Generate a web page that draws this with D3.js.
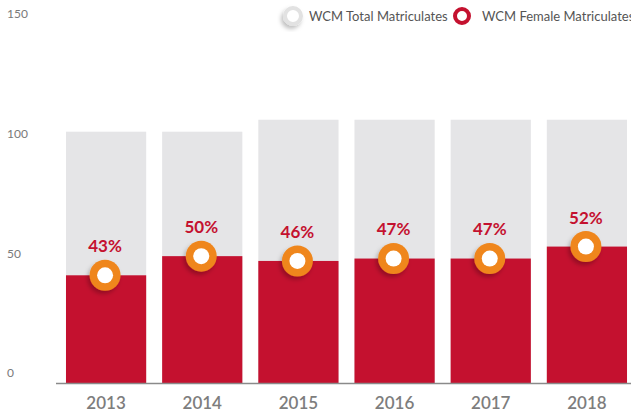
<!DOCTYPE html>
<html>
<head>
<meta charset="utf-8">
<script src="https://cdn.jsdelivr.net/npm/d3@7.9.0/dist/d3.min.js"></script>
<style>
  html, body { margin: 0; padding: 0; background: #fff; }
  svg { display: block; font-family: Lato, 'Open Sans', sans-serif; }
</style>
</head>
<body>
<svg width="631" height="415"></svg>
<script>
// Chart data
const years = ['2013', '2014', '2015', '2016', '2017', '2018'];
const totalMatriculates = [105, 105, 110, 110, 110, 110];
const femaleMatriculates = [45, 53, 51, 52, 52, 57];
const femaleShare = ['43%', '50%', '46%', '47%', '47%', '52%'];
const yTicks = [0, 50, 100, 150];

const svg = d3.select('svg');

// Scales
const x = d3.scaleBand()
  .domain(years)
  .range([58, 635])
  .paddingInner(0.166)
  .paddingOuter(0.083);

const y = d3.scaleLinear()
  .domain([0, 150])
  .range([383, 24]);

// Soft shadow for the markers
const defs = svg.append('defs');
const shadow = defs.append('filter').attr('id', 'shadow')
  .attr('x', '-50%').attr('y', '-50%').attr('width', '200%').attr('height', '200%');
shadow.append('feDropShadow')
  .attr('dx', -2).attr('dy', 3).attr('stdDeviation', 2)
  .attr('flood-color', '#000').attr('flood-opacity', 0.25);

// Y labels (no grid)
svg.append('g')
  .selectAll('text')
  .data(yTicks)
  .join('text')
  .attr('x', 7)
  .attr('y', (d) => y(d) - 10)
  .attr('dy', '0.35em')
  .attr('font-size', 12)
  .attr('fill', '#7a7a7a')
  .text((d) => d);

// Total bars
svg.append('g')
  .selectAll('rect')
  .data(years)
  .join('rect')
  .attr('x', (d) => x(d))
  .attr('width', x.bandwidth())
  .attr('y', (d, i) => y(totalMatriculates[i]))
  .attr('height', (d, i) => y(0) - y(totalMatriculates[i]))
  .attr('fill', '#e5e5e7');

// Female bars
svg.append('g')
  .selectAll('rect')
  .data(years)
  .join('rect')
  .attr('x', (d) => x(d))
  .attr('width', x.bandwidth())
  .attr('y', (d, i) => y(femaleMatriculates[i]))
  .attr('height', (d, i) => y(0) - y(femaleMatriculates[i]))
  .attr('fill', '#c4112f');

// Baseline
svg.append('line')
  .attr('x1', 56).attr('x2', 631)
  .attr('y1', y(0) + 0.5).attr('y2', y(0) + 0.5)
  .attr('stroke', '#8a8a8a')
  .attr('stroke-width', 1.5);

// Markers
const markers = svg.append('g')
  .selectAll('g')
  .data(years)
  .join('g')
  .attr('transform', (d, i) => `translate(${x(d) + x.bandwidth() / 2 - 1},${y(femaleMatriculates[i])})`);

markers.append('circle')
  .attr('r', 15.5)
  .attr('fill', '#ef861c')
  .attr('filter', 'url(#shadow)');
markers.append('circle')
  .attr('r', 8)
  .attr('fill', '#fff');

// Percentage labels
svg.append('g')
  .selectAll('text')
  .data(years)
  .join('text')
  .attr('x', (d) => x(d) + x.bandwidth() / 2 - 1)
  .attr('y', (d, i) => y(femaleMatriculates[i]) - 29)
  .attr('dy', '0.35em')
  .attr('text-anchor', 'middle')
  .attr('font-size', 17)
  .attr('font-weight', 700)
  .attr('fill', '#c4112f')
  .text((d, i) => femaleShare[i]);

// X labels
svg.append('g')
  .selectAll('text')
  .data(years)
  .join('text')
  .attr('x', (d) => x(d) + x.bandwidth() / 2)
  .attr('y', 403)
  .attr('dy', '0.35em')
  .attr('text-anchor', 'middle')
  .attr('font-size', 17)
  .attr('font-weight', 600)
  .attr('fill', '#7d7d7d')
  .text((d) => d);

// Legend
const legend = svg.append('g');
legend.append('circle')
  .attr('cx', 293).attr('cy', 16).attr('r', 8)
  .attr('fill', '#fff')
  .attr('stroke', '#e2e2e2')
  .attr('stroke-width', 4)
  .attr('filter', 'url(#shadow)');
legend.append('text')
  .attr('x', 309).attr('y', 16).attr('dy', '0.35em')
  .attr('font-size', 13).attr('fill', '#555')
  .text('WCM Total Matriculates');
legend.append('circle')
  .attr('cx', 462).attr('cy', 16).attr('r', 7)
  .attr('fill', '#fff')
  .attr('stroke', '#c4112f')
  .attr('stroke-width', 4);
legend.append('text')
  .attr('x', 482).attr('y', 16).attr('dy', '0.35em')
  .attr('font-size', 13).attr('fill', '#555')
  .text('WCM Female Matriculates');
</script>
</body>
</html>
